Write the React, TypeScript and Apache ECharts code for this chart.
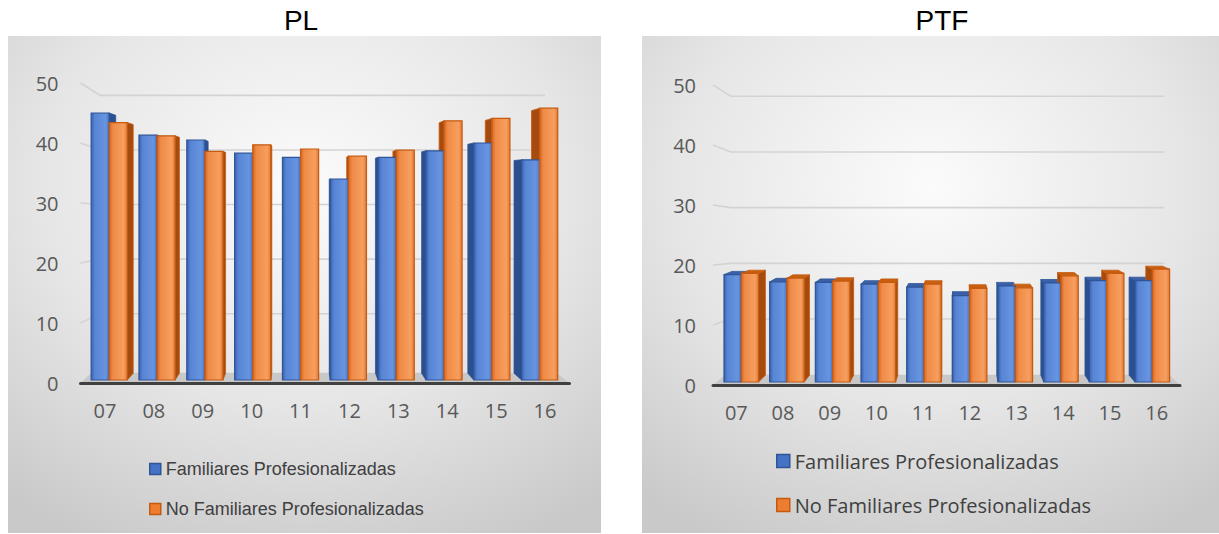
import React, { useEffect, useRef } from 'react';
import * as echarts from 'echarts';

// ---------- data ----------
const categories = ['07', '08', '09', '10', '11', '12', '13', '14', '15', '16'];
const plFamiliares = [45.0, 41.3, 40.5, 38.3, 37.6, 34.0, 37.6, 38.7, 40.0, 37.2];
const plNoFamiliares = [43.4, 41.2, 38.6, 39.7, 39.0, 37.8, 38.8, 43.7, 44.1, 45.8];
const ptfFamiliares = [18.4, 17.2, 17.1, 16.8, 16.3, 14.9, 16.5, 17.0, 17.4, 17.4];
const ptfNoFamiliares = [18.6, 17.8, 17.3, 17.1, 16.8, 16.1, 16.2, 18.2, 18.6, 19.3];
const yTicks = [10, 20, 30, 40, 50];
const seriesNames = ['Familiares Profesionalizadas', 'No Familiares Profesionalizadas'];
const panelTitles = ['PL', 'PTF'];

// ---------- styling / layout ----------
const panels = [
  {
    title: panelTitles[0],
    values: [plFamiliares, plNoFamiliares],
    grid: { left: 80.5, top: 83, width: 489, height: 300 },
    bg: { x: 8, y: 36, w: 593, h: 497 },
    titlePos: [301, 20],
    barVp: [300, 180],
    wallVp: [297, 220],
    wallS: 0.91,
    yMargin: 22,
    legend: { left: 144, top: 454, gap: 20, font: 'Liberation Sans', size: 18, icon: 11 },
  },
  {
    title: panelTitles[1],
    values: [ptfFamiliares, ptfNoFamiliares],
    grid: { left: 713, top: 85, width: 467, height: 300 },
    bg: { x: 642, y: 36, w: 577, h: 497 },
    titlePos: [942, 20],
    barVp: [960, 180],
    wallVp: [962, 242],
    wallS: 0.928,
    yMargin: 17,
    legend: { left: 771, top: 446, gap: 24, font: 'Open Sans', size: 20, icon: 13 },
  },
];

const palettes = [
  {
    base: '#4472C4',
    front: ['#3a62b0', '#5784d4', '#6895e0', '#4874c4'],
    border: '#2f5597',
    side: '#2b4f8f',
    top: '#3a60a8',
  },
  {
    base: '#ED7D31',
    front: ['#d5661f', '#ef8a46', '#f79f5f', '#e27a33'],
    border: '#c55a11',
    side: '#a64b0e',
    top: '#c9600f',
  },
];

const makeBarRender = (s: number, vp: number[]) => (params: any, api: any) => {
  const ci = api.value(0);
  const v = api.value(1);
  const pTop = api.coord([ci, v]);
  const pBase = api.coord([ci, 0]);
  const band = api.size([1, 0])[0];
  const w = band * 0.37;
  const cx = pTop[0] + (vp[0] - pTop[0]) * 0.022;
  const x0 = s === 0 ? cx - w : cx;
  const x1 = x0 + w;
  const yT = pTop[1];
  const yB = pBase[1] - 3;
  const k = 0.034;
  const back = (x: number, y: number) => [x + (vp[0] - x) * k, y + (vp[1] - y) * k];
  const pal = palettes[s];
  const ex = (x0 + x1) / 2 < vp[0] ? x1 : x0;
  const children: any[] = [];
  children.push({
    type: 'polygon',
    z2: 1,
    shape: { points: [[ex, yT], back(ex, yT), back(ex, yB), [ex, yB]] },
    style: { fill: pal.side, stroke: pal.border, lineWidth: 0.8 },
  });
  if (yT > vp[1]) {
    children.push({
      type: 'polygon',
      z2: 1,
      shape: { points: [[x0, yT], [x1, yT], back(x1, yT), back(x0, yT)] },
      style: { fill: pal.top, stroke: pal.border, lineWidth: 0.8 },
    });
  }
  children.push({
    type: 'rect',
    z2: 2,
    shape: { x: x0, y: yT, width: w, height: yB - yT },
    style: {
      fill: new echarts.graphic.LinearGradient(0, 0, 1, 0, [
        { offset: 0, color: pal.front[0] },
        { offset: 0.2, color: pal.front[1] },
        { offset: 0.8, color: pal.front[2] },
        { offset: 1, color: pal.front[3] },
      ]),
      stroke: pal.border,
      lineWidth: 1.2,
    },
  });
  return { type: 'group', children };
};

const makeFloorRender = (vp: number[]) => (params: any, api: any) => {
  const cs = params.coordSys;
  const yb = api.coord([0, 0])[1];
  const xl = cs.x;
  const xr = cs.x + cs.width;
  const k = 0.05;
  const b = (x: number, y: number) => [x + (vp[0] - x) * k, y + (vp[1] - y) * k];
  return {
    type: 'polygon',
    shape: { points: [[xl, yb], [xr, yb], b(xr, yb), b(xl, yb)] },
    style: { fill: '#c8c8c8' },
  };
};

const makeWallRender = (vp: number[], s: number) => (params: any, api: any) => {
  const cs = params.coordSys;
  const t = api.value(1);
  const y = api.coord([0, t])[1];
  const xl = cs.x;
  const xr = cs.x + cs.width;
  const T = (x: number, yy: number) => [vp[0] + (x - vp[0]) * s, vp[1] + (yy - vp[1]) * s];
  return {
    type: 'polyline',
    shape: { points: [[xl, y], T(xl, y), T(xr, y)] },
    style: { stroke: '#d3d3d3', lineWidth: 1.6, fill: null },
  };
};

export default function App() {
  const ref = useRef<HTMLDivElement>(null);

  useEffect(() => {
    if (!ref.current) return;
    const chart = echarts.init(ref.current, undefined, { renderer: 'svg' });

    const grids: any[] = [];
    const xAxes: any[] = [];
    const yAxes: any[] = [];
    const series: any[] = [];
    const legends: any[] = [];
    const graphics: any[] = [];

    panels.forEach((p, i) => {
      grids.push({ ...p.grid, containLabel: false });
      xAxes.push({
        type: 'category',
        gridIndex: i,
        data: categories,
        boundaryGap: true,
        axisTick: { show: false },
        axisLine: { show: true, lineStyle: { color: '#404040', width: 3 } },
        axisLabel: { color: '#595959', fontSize: 20, fontFamily: 'Open Sans', margin: 17 },
        splitLine: { show: false },
        z: 5,
      });
      yAxes.push({
        type: 'value',
        gridIndex: i,
        min: 0,
        max: 50,
        interval: 10,
        axisLine: { show: false },
        axisTick: { show: false },
        splitLine: { show: false },
        axisLabel: { color: '#595959', fontSize: 20, fontFamily: 'Open Sans', margin: p.yMargin },
      });
      series.push({
        type: 'custom',
        name: 'wall' + i,
        xAxisIndex: i,
        yAxisIndex: i,
        z: 1,
        silent: true,
        clip: false,
        renderItem: makeWallRender(p.wallVp, p.wallS),
        data: yTicks.map((t) => [0, t]),
      });
      series.push({
        type: 'custom',
        name: 'floor' + i,
        xAxisIndex: i,
        yAxisIndex: i,
        z: 1,
        silent: true,
        clip: false,
        renderItem: makeFloorRender(p.barVp),
        data: [[0, 0]],
      });
      p.values.forEach((vals, s) => {
        series.push({
          type: 'custom',
          name: seriesNames[s],
          xAxisIndex: i,
          yAxisIndex: i,
          z: 3,
          clip: false,
          itemStyle: { color: palettes[s].base, borderColor: palettes[s].border },
          renderItem: makeBarRender(s, p.barVp),
          data: vals.map((v, ci) => [ci, v]),
        });
      });
      legends.push({
        orient: 'vertical',
        left: p.legend.left,
        top: p.legend.top,
        itemWidth: p.legend.icon,
        itemHeight: p.legend.icon,
        itemGap: p.legend.gap,
        icon: 'rect',
        selectedMode: false,
        textStyle: {
          fontFamily: p.legend.font,
          fontSize: p.legend.size,
          color: '#404040',
          lineHeight: 20,
        },
        data: seriesNames.map((n, s) => ({
          name: n,
          itemStyle: { color: palettes[s].base, borderColor: palettes[s].border, borderWidth: 1.5 },
        })),
      });
      graphics.push({
        type: 'rect',
        z: -10,
        shape: { x: p.bg.x, y: p.bg.y, width: p.bg.w, height: p.bg.h },
        style: {
          fill: new echarts.graphic.RadialGradient(0.5, 0.3, 0.8, [
            { offset: 0, color: '#fbfbfb' },
            { offset: 0.55, color: '#e6e6e6' },
            { offset: 1, color: '#c9c9c9' },
          ]),
        },
        silent: true,
      });
      graphics.push({
        type: 'text',
        z: 10,
        x: p.titlePos[0],
        y: p.titlePos[1],
        style: {
          text: p.title,
          fill: '#000000',
          font: '28px "Liberation Sans", Arial, sans-serif',
          align: 'center',
          verticalAlign: 'middle',
        },
      });
    });

    chart.setOption({
      animation: false,
      backgroundColor: '#ffffff',
      grid: grids,
      xAxis: xAxes,
      yAxis: yAxes,
      legend: legends,
      series,
      graphic: { elements: graphics },
    });

    return () => chart.dispose();
  }, []);

  return (
    <div
      ref={ref}
      style={{ position: 'absolute', left: 0, top: 0, width: 1219, height: 534 }}
    />
  );
}
